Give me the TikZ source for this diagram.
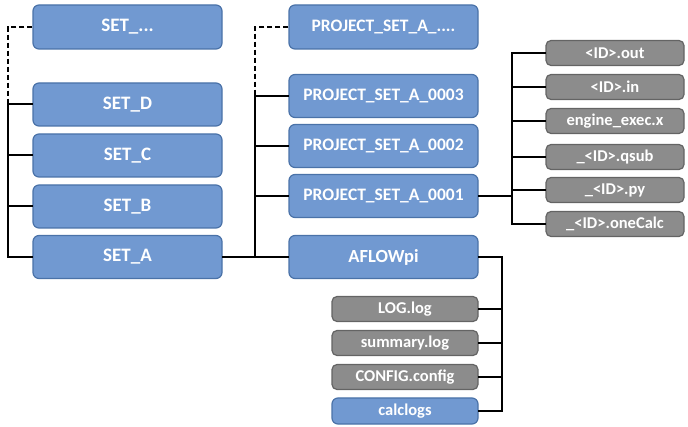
\documentclass[tikz,border=0pt]{standalone}
\usepackage{fontspec}
\setmainfont{Carlito}
\definecolor{boxblue}{RGB}{113,153,209}
\definecolor{edgeblue}{RGB}{74,114,168}
\definecolor{boxgray}{RGB}{140,140,140}
\definecolor{edgegray}{RGB}{100,100,100}
\tikzset{
  dirbox/.style={draw=edgeblue, fill=boxblue, line width=1.2pt, rounded corners=6pt,
    text=white, font=\bfseries, inner sep=0pt},
  filebox/.style={draw=edgegray, fill=boxgray, line width=1.2pt, rounded corners=5pt,
    text=white, font=\bfseries\fontsize{16.5}{18}\selectfont, inner sep=0pt,
    minimum height=25pt},
  link/.style={line width=2pt, line cap=rect},
  dashlink/.style={line width=2pt, dash pattern=on 5pt off 3pt}
}
\begin{document}
\begin{tikzpicture}[x=1pt,y=-1pt]
  \useasboundingbox (0,0) rectangle (688,427);
  \node[dirbox, minimum width=189pt, minimum height=44pt, font=\bfseries\fontsize{19}{21}\selectfont] (setx) at (127.5,27) {SET\_...};
  \node[dirbox, minimum width=189pt, minimum height=43pt, font=\bfseries\fontsize{19}{21}\selectfont] (setd) at (127.5,104.5) {SET\_D};
  \node[dirbox, minimum width=189pt, minimum height=43pt, font=\bfseries\fontsize{19}{21}\selectfont] (setc) at (127.5,155.5) {SET\_C};
  \node[dirbox, minimum width=189pt, minimum height=43pt, font=\bfseries\fontsize{19}{21}\selectfont] (setb) at (127.5,206.5) {SET\_B};
  \node[dirbox, minimum width=189pt, minimum height=43pt, font=\bfseries\fontsize{19}{21}\selectfont] (seta) at (127.5,257) {SET\_A};
  \node[dirbox, minimum width=189pt, minimum height=44pt, font=\bfseries\fontsize{17.5}{19}\selectfont] (projx) at (383.5,27) {PROJECT\_SET\_A\_....};
  \node[dirbox, minimum width=189pt, minimum height=43pt, font=\bfseries\fontsize{17.5}{19}\selectfont] (proj3) at (383.5,96) {PROJECT\_SET\_A\_0003};
  \node[dirbox, minimum width=189pt, minimum height=43pt, font=\bfseries\fontsize{17.5}{19}\selectfont] (proj2) at (383.5,146) {PROJECT\_SET\_A\_0002};
  \node[dirbox, minimum width=189pt, minimum height=43pt, font=\bfseries\fontsize{17.5}{19}\selectfont] (proj1) at (383.5,196) {PROJECT\_SET\_A\_0001};
  \node[dirbox, minimum width=189pt, minimum height=43pt, font=\bfseries\fontsize{18.5}{20}\selectfont] (aflow) at (383.5,257) {AFLOWpi};
  \node[filebox, minimum width=138pt] (idout) at (615,53) {<ID>.out};
  \node[filebox, minimum width=138pt] (idin) at (615,87) {<ID>.in};
  \node[filebox, minimum width=138pt] (engine) at (615,121) {engine\_exec.x};
  \node[filebox, minimum width=138pt] (qsub) at (615,157) {\_<ID>.qsub};
  \node[filebox, minimum width=138pt] (pyfile) at (615,190) {\_<ID>.py};
  \node[filebox, minimum width=138pt] (onecalc) at (615,224) {\_<ID>.oneCalc};
  \node[filebox, minimum width=146pt] (logfile) at (405,309) {LOG.log};
  \node[filebox, minimum width=146pt] (summary) at (405,343) {summary.log};
  \node[filebox, minimum width=146pt] (config) at (405,377) {CONFIG.config};
  \node[dirbox, minimum width=146pt, minimum height=26pt, font=\bfseries\fontsize{16.5}{18}\selectfont] (calclogs) at (405,411) {calclogs};
  \coordinate (lefttop) at (8,104.5);
  \coordinate (midtop) at (255,96);
  \draw[dashlink] (setx.west) -| (lefttop);
  \draw[link] (seta.west) -| (lefttop) -- (setd.west);
  \draw[link] (setc.west) -- (setc.west -| lefttop);
  \draw[link] (setb.west) -- (setb.west -| lefttop);
  \draw[dashlink] (projx.west) -| (midtop);
  \draw[link] (seta.east) -- (aflow.west);
  \draw[link] (seta.east -| midtop) -- (midtop) -- (proj3.west);
  \draw[link] (proj2.west) -- (proj2.west -| midtop);
  \draw[link] (proj1.west) -- (proj1.west -| midtop);
  \coordinate (rightbar) at (512,196);
  \draw[link] (proj1.east) -- (rightbar);
  \draw[link] (idout.west) -| (rightbar) |- (onecalc.west);
  \draw[link] (idin.west) -- (idin.west -| rightbar);
  \draw[link] (engine.west) -- (engine.west -| rightbar);
  \draw[link] (qsub.west) -- (qsub.west -| rightbar);
  \draw[link] (pyfile.west) -- (pyfile.west -| rightbar);
  \coordinate (lowbar) at (502,257);
  \draw[link] (aflow.east) -- (lowbar) |- (calclogs.east);
  \draw[link] (logfile.east) -- (logfile.east -| lowbar);
  \draw[link] (summary.east) -- (summary.east -| lowbar);
  \draw[link] (config.east) -- (config.east -| lowbar);
\end{tikzpicture}
\end{document}
